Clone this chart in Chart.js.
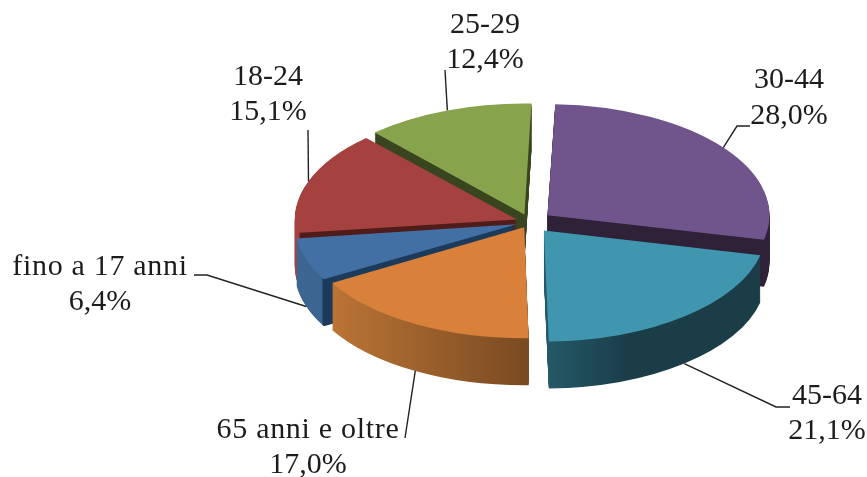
<!DOCTYPE html>
<html><head><meta charset="utf-8">
<style>html,body{margin:0;padding:0;background:#fff}#w{width:867px;height:477px}</style>
<script src="https://cdn.jsdelivr.net/npm/chart.js@4"></script>
</head><body><div id="w"><canvas id="c" width="867" height="477"></canvas></div>
<script>
const categories = ['30-44','45-64','65 anni e oltre','fino a 17 anni','18-24','25-29'];
const percentages = [28.0,21.1,17.0,6.4,15.1,12.4];
const percentLabels = ['28,0%','21,1%','17,0%','6,4%','15,1%','12,4%'];

const topColors = ['#70558d','#3f96ae','#d9803a','#4270a5','#a5423f','#87a34c'];
const explodePx = [22,22,12,14,14,16];
const wallStops = [
  [[0,'#2e2138'],[1,'#2e2138']],
  [[0,'#245a68'],[0.5,'#245a68'],[0.69,'#1b3d48'],[1,'#1b3d48']],
  [[0,'#bd7636'],[0.05,'#bd7636'],[0.5,'#7a4b22'],[1,'#7a4b22']],
  [[0,'#3c6592'],[0.062,'#3c6592'],[0.063,'#1c3a5a'],[1,'#1c3a5a']],
  [[0,'#a5423f'],[0.01,'#a5423f'],[0.011,'#4f1c1a'],[1,'#4f1c1a']],
  [[0,'#38451f'],[1,'#38451f']]
];
const wallOrder = [5,0,4,3,2,1];
const SQUASH = 0.5, DEPTH = 47, RADIUS = 222, CX = 530, CY = 222;

// label centre x, first line y, second line y
const labelLayout = [[789,80,116],[827,396,431],[308,430,465],[100,267,302],[268,77,112],[485,25,60]];
// leader line continuation after the rim point
const leaderLayout = [
  [[737,126],[750,126]],
  [[776,407],[790,407]],
  [[405,438]],
  [[207,275],[194,275]],
  [[308,130]],
  [[445,70]]
];

const pie3d = {
  id:'pie3d',
  beforeDatasetsDraw(chart){
    const ctx = chart.ctx, arcs = chart.getDatasetMeta(0).data;
    // the arc element widens narrow exploded slices; hold every rim at one radius
    arcs.forEach((arc,i)=>{
      const fix = 1-Math.sin(Math.min(Math.PI,arc.circumference));
      arc.outerRadius = RADIUS-explodePx[i]*fix;
    });
    ctx.save();
    ctx.translate(0,CY); ctx.scale(1,SQUASH); ctx.translate(0,-CY);
    wallOrder.forEach(i=>{
      const arc = arcs[i];
      const g = ctx.createLinearGradient(arc.x-RADIUS,0,arc.x+RADIUS,0);
      wallStops[i].forEach(s=>g.addColorStop(s[0],s[1]));
      const clone = Object.create(arc);
      clone.options = Object.assign({},arc.options,{backgroundColor:g});
      for(let d=DEPTH;d>=1;d--){
        ctx.save();
        ctx.translate(0,d/SQUASH);
        clone.draw(ctx);
        ctx.restore();
      }
    });
  },
  afterDatasetsDraw(chart){
    const ctx = chart.ctx, arcs = chart.getDatasetMeta(0).data;
    ctx.restore();
    ctx.save();
    ctx.strokeStyle='#222'; ctx.lineWidth=1.4;
    arcs.forEach((arc,i)=>{
      const mid=(arc.startAngle+arc.endAngle)/2;
      const r=RADIUS+explodePx[i];
      const x=arc.x+Math.cos(mid)*r;
      const y=CY+Math.sin(mid)*r*SQUASH+(Math.sin(mid)>0?DEPTH:0);
      ctx.beginPath(); ctx.moveTo(x,y);
      leaderLayout[i].forEach(p=>ctx.lineTo(p[0],p[1]));
      ctx.stroke();
    });
    ctx.fillStyle='#1c1c1c';
    ctx.font='30px "Liberation Serif"';
    ctx.textAlign='center'; ctx.textBaseline='middle';
    categories.forEach((c,i)=>{
      const l=labelLayout[i];
      ctx.letterSpacing = /[a-z]/.test(c) ? '0.7px' : '0px';
      ctx.fillText(c,l[0],l[1]);
      ctx.letterSpacing = '0px';
      ctx.fillText(percentLabels[i],l[0],l[2]);
    });
    ctx.restore();
  }
};

new Chart(document.getElementById('c'),{
  type:'pie',
  data:{labels:categories,datasets:[{
    data:percentages,
    backgroundColor:topColors,
    borderWidth:0,
    radius:RADIUS,
    offset:explodePx.map(v=>v*4),
    hoverOffset:0,
    clip:false
  }]},
  options:{
    responsive:false,
    animation:false,
    rotation:2,
    events:[],
    layout:{padding:{left:2*CX-867,right:0,top:0,bottom:477-2*CY}},
    plugins:{legend:{display:false},tooltip:{enabled:false},title:{display:false}}
  },
  plugins:[pie3d]
});
</script></body></html>
